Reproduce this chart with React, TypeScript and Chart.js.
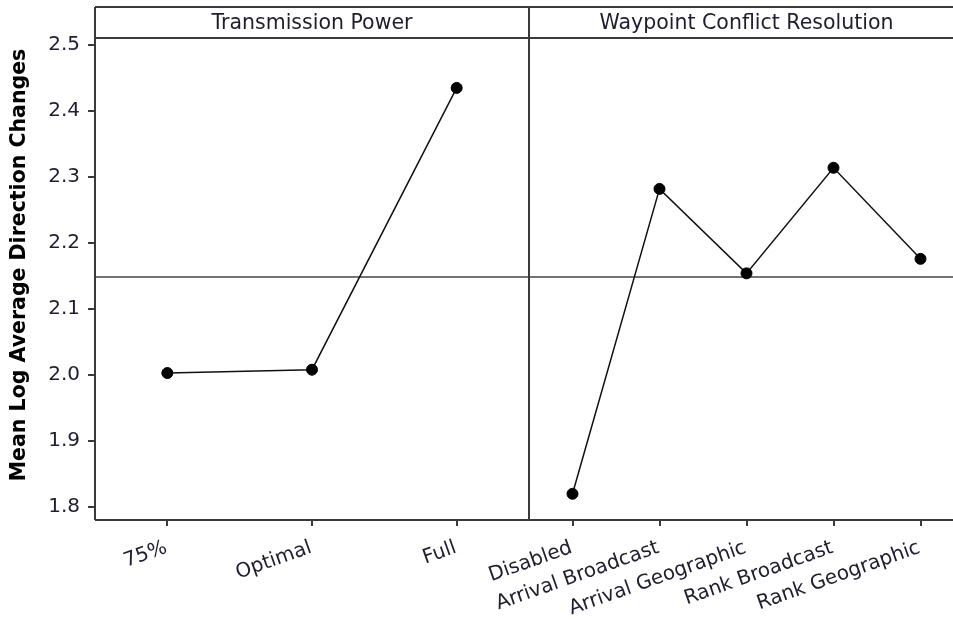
import React, { useEffect, useRef } from "react";
import { Chart, registerables } from "chart.js";

Chart.register(...registerables);

// ---- data ----
const yAxisTitle = "Mean Log Average Direction Changes";
const powerTitle = "Transmission Power";
const powerLevels = ["75%", "Optimal", "Full"];
const powerMeans = [2.003, 2.008, 2.435];
const wcrTitle = "Waypoint Conflict Resolution";
const wcrLevels = [
  "Disabled",
  "Arrival Broadcast",
  "Arrival Geographic",
  "Rank Broadcast",
  "Rank Geographic",
];
const wcrMeans = [1.82, 2.282, 2.154, 2.314, 2.176];
const yTickValues = [1.8, 1.9, 2.0, 2.1, 2.2, 2.3, 2.4, 2.5];
const yMin = 1.7803;
const yMax = 2.5106;

// ---- style ----
const FONT = '"DejaVu Sans", Verdana, sans-serif';
const TEXT = "#1e1e30";
const LINE = "#3a3a3a";
const STRIP_TOP = 7;
const AREA_TOP = 38;

function panelPlugin(title: string, grand: number, drawYTitle: boolean) {
  return {
    id: "panel",
    beforeDatasetsDraw(chart: any) {
      const { ctx, chartArea, scales } = chart;
      const y = scales.y.getPixelForValue(grand);
      ctx.save();
      ctx.strokeStyle = "#444";
      ctx.lineWidth = 1.5;
      ctx.beginPath();
      ctx.moveTo(chartArea.left, y);
      ctx.lineTo(chartArea.right, y);
      ctx.stroke();
      ctx.restore();
    },
    afterDraw(chart: any) {
      const { ctx, chartArea } = chart;
      const { left, right, bottom } = chartArea;
      ctx.save();
      ctx.strokeStyle = LINE;
      ctx.lineWidth = 2;
      ctx.beginPath();
      ctx.moveTo(left, STRIP_TOP);
      ctx.lineTo(right, STRIP_TOP);
      ctx.moveTo(left, AREA_TOP);
      ctx.lineTo(right, AREA_TOP);
      ctx.moveTo(left, bottom);
      ctx.lineTo(right, bottom);
      ctx.moveTo(left, STRIP_TOP);
      ctx.lineTo(left, bottom);
      ctx.moveTo(right, STRIP_TOP);
      ctx.lineTo(right, bottom);
      ctx.stroke();
      ctx.fillStyle = TEXT;
      ctx.font = `20.5px ${FONT}`;
      ctx.textAlign = "center";
      ctx.textBaseline = "middle";
      ctx.fillText(title, (left + right) / 2, (STRIP_TOP + AREA_TOP) / 2 + 1);
      if (drawYTitle) {
        ctx.translate(20, 265);
        ctx.rotate(-Math.PI / 2);
        ctx.fillStyle = "#000";
        ctx.font = `bold 20.5px ${FONT}`;
        ctx.fillText(yAxisTitle, 0, 0);
      }
      ctx.restore();
    },
  };
}

function makeConfig(
  labels: string[],
  values: number[],
  title: string,
  grand: number,
  withYAxis: boolean,
  padLeft: number,
  padRight: number
): any {
  return {
    type: "line",
    data: {
      labels,
      datasets: [
        {
          data: values,
          borderColor: "#111",
          borderWidth: 1.5,
          pointRadius: 5.5,
          pointBorderWidth: 1,
          pointBackgroundColor: "#000",
          pointBorderColor: "#000",
          tension: 0,
          fill: false,
        },
      ],
    },
    options: {
      animation: false,
      responsive: false,
      devicePixelRatio: 1,
      layout: {
        autoPadding: false,
        padding: { top: AREA_TOP, left: padLeft, right: padRight, bottom: 0 },
      },
      plugins: {
        legend: { display: false },
        tooltip: { enabled: false },
        title: { display: false },
      },
      scales: {
        x: {
          type: "category",
          offset: true,
          grid: {
            offset: false,
            drawOnChartArea: false,
            drawTicks: true,
            tickLength: 6,
            color: LINE,
            lineWidth: 2,
          },
          border: { display: false },
          ticks: {
            autoSkip: false,
            minRotation: 19.5,
            maxRotation: 19.5,
            padding: 10,
            labelOffset: -1,
            color: TEXT,
            font: { family: FONT, size: 20 },
          },
          afterFit: (s: any) => {
            s.height = 99;
            s.paddingLeft = 0;
            s.paddingRight = 0;
          },
        },
        y: {
          display: withYAxis,
          min: yMin,
          max: yMax,
          afterBuildTicks: (s: any) => {
            s.ticks = yTickValues.map((v) => ({ value: v }));
          },
          grid: {
            drawOnChartArea: false,
            drawTicks: true,
            tickLength: 7,
            color: LINE,
            lineWidth: 2,
          },
          border: { display: false },
          ticks: {
            padding: 8,
            color: TEXT,
            font: { family: FONT, size: 20 },
            callback: (v: any) => Number(v).toFixed(1),
          },
          afterFit: (s: any) => {
            s.width = withYAxis ? 95 : 0;
            s.paddingTop = 0;
            s.paddingBottom = 0;
          },
        },
      },
    },
    plugins: [panelPlugin(title, grand, withYAxis)],
  };
}

export default function App() {
  const leftRef = useRef<HTMLCanvasElement>(null);
  const rightRef = useRef<HTMLCanvasElement>(null);

  useEffect(() => {
    const grand = powerMeans.reduce((a, b) => a + b, 0) / powerMeans.length;
    const c1 = new Chart(
      leftRef.current!,
      makeConfig(powerLevels, powerMeans, powerTitle, grand, true, 0, 2)
    );
    const c2 = new Chart(
      rightRef.current!,
      makeConfig(wcrLevels, wcrMeans, wcrTitle, grand, false, 89, 2)
    );
    return () => {
      c1.destroy();
      c2.destroy();
    };
  }, []);

  return (
    <div
      style={{
        position: "fixed",
        left: 0,
        top: 0,
        width: 953,
        height: 619,
        overflow: "hidden",
        background: "#fff",
      }}
    >
      <canvas
        ref={leftRef}
        width={531}
        height={619}
        style={{ position: "absolute", left: 0, top: 0 }}
      />
      <canvas
        ref={rightRef}
        width={526}
        height={619}
        style={{ position: "absolute", left: 440, top: 0 }}
      />
    </div>
  );
}
